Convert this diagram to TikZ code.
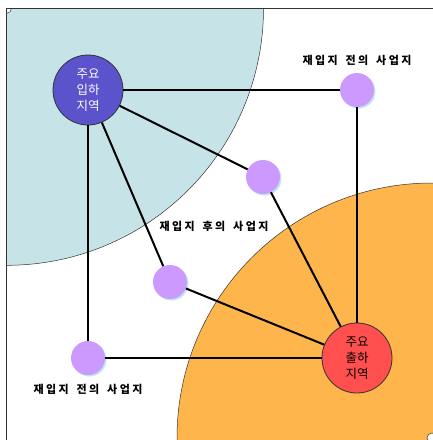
\documentclass[tikz,border=0pt]{standalone}
\usepackage{fontspec}
\newfontfamily\kr{Noto Sans CJK KR}
\newfontfamily\krsp[LetterSpace=22,WordSpace=1.6]{Noto Sans CJK KR}
\definecolor{cyanbg}{HTML}{C6E4E8}
\definecolor{orangebg}{HTML}{FDB54C}
\definecolor{hubblue}{HTML}{5A53CC}
\definecolor{hubred}{HTML}{FF4F4F}
\definecolor{sitepurple}{HTML}{CC99FF}
\definecolor{siteshadow}{HTML}{BDE6EE}
\definecolor{edgegray}{HTML}{333333}
\tikzset{
  hub/.style={circle, draw=edgegray, line width=0.8pt, minimum size=70pt, inner sep=0pt,
    align=center, font=\kr\fontsize{12.5}{15.7}\selectfont},
  site/.style={circle, fill=sitepurple, minimum size=34pt, inner sep=0pt,
    preaction={fill=siteshadow, transform canvas={xshift=1.5pt, yshift=-1.5pt}}},
  sitelabel/.style={font=\krsp\bfseries\fontsize{11}{13}\selectfont, inner sep=0pt},
  link/.style={line width=2pt, black},
  zone/.style={draw=edgegray, line width=0.5pt}
}
\begin{document}
\begin{tikzpicture}[x=1pt, y=-1pt]
\useasboundingbox (0,0) rectangle (433,440);
\begin{scope}
\clip (6.5,8.3) rectangle (433,440);
\fill[cyanbg] (6.5,8.3) circle (257);
\draw[zone] (6.5,8.3) circle (257);
\fill[orangebg] (432,438) circle (255);
\draw[zone] (432,438) circle (255);
\fill[white] (6.5,8.3) circle (5);
\draw[zone] (6.5,8.3) circle (5);
\fill[white] (432,438) circle (5);
\draw[zone] (432,438) circle (5);
\end{scope}
\draw[edgegray, line width=1pt] (433,8.3) -- (6.5,8.3) -- (6.5,440);

\coordinate (bc) at (88,90);
\coordinate (rc) at (357,358);
\node[site] (p1) at (357,90) {};
\node[site] (p2) at (263,177) {};
\node[site] (p3) at (170,282) {};
\node[site] (p4) at (88,358) {};
\node[hub, fill=hubblue, text=white] (blue) at (bc) {주요\\입하\\지역};
\node[hub, fill=hubred, text=black] (red) at (rc) {주요\\출하\\지역};

\draw[link] (blue) -- (p1);
\draw[link] (p1) -- (red);
\draw[link] (blue) -- (p4);
\draw[link] (p4) -- (red);
\draw[link] (blue) -- (p2);
\draw[link] (p2) -- (red);
\draw[link] (blue) -- (p3);
\draw[link] (p3) -- (red);

\node[sitelabel] (l1) at (357,60) {재입지 전의 사업지};
\node[sitelabel] (l2) at (214,226) {재입지 후의 사업지};
\node[sitelabel] (l3) at (88,389) {재입지 전의 사업지};
\end{tikzpicture}
\end{document}
